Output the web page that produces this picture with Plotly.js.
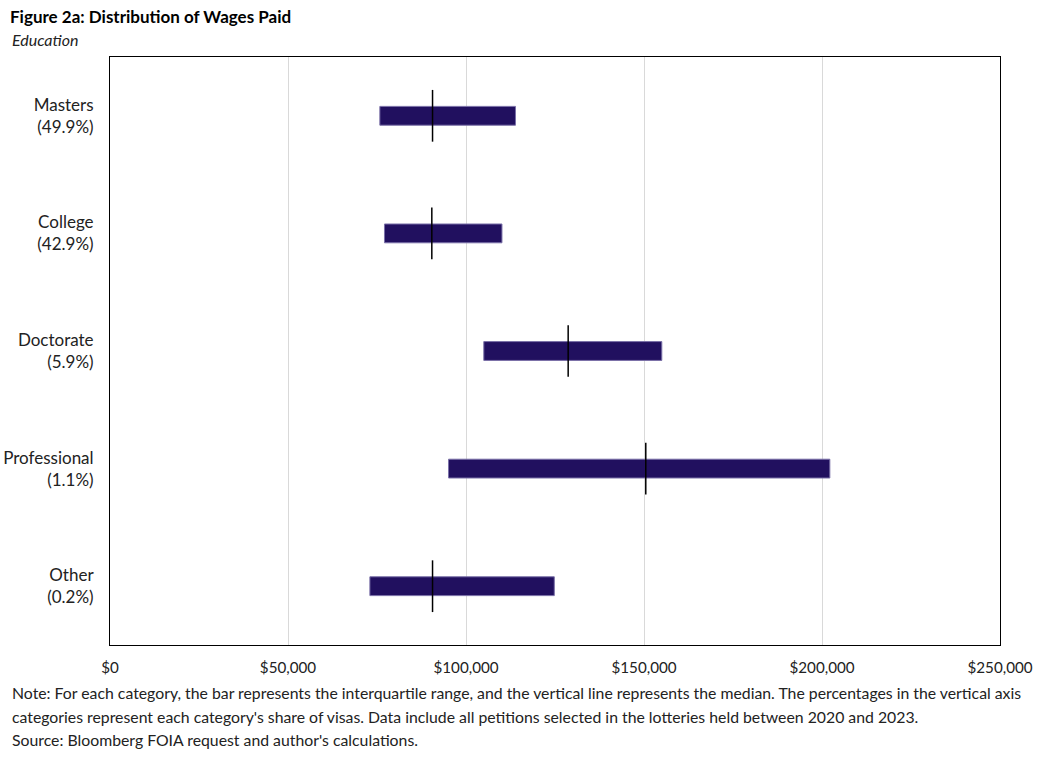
<!DOCTYPE html>
<html>
<head>
<meta charset="utf-8">
<script src="https://cdn.plot.ly/plotly-3.0.1.min.js"></script>
<style>body{margin:0;background:#fff}</style>
</head>
<body>
<div id="chart" style="width:1044px;height:758px"></div>
<script>
// education categories, share of visas, and wage quartiles (dollars)
var categories = ["Masters", "College", "Doctorate", "Professional", "Other"];
var shares = ["49.9%", "42.9%", "5.9%", "1.1%", "0.2%"];
var q1 = [75800, 77100, 105000, 95100, 73000];
var median = [90600, 90400, 128700, 150500, 90600];
var q3 = [113900, 110100, 155000, 202200, 124800];

var noteLines = [
  "Note: For each category, the bar represents the interquartile range, and the vertical line represents the median. The percentages in the vertical axis",
  "categories represent each category's share of visas. Data include all petitions selected in the lotteries held between 2020 and 2023.",
  "Source: Bloomberg FOIA request and author's calculations."
];

var pos = categories.map(function (c, i) { return i; });
var labels = categories.map(function (c, i) { return c + "<br>(" + shares[i] + ")"; });

// interquartile bars
var iqr = {
  type: 'bar',
  orientation: 'h',
  y: pos,
  base: q1,
  x: q3.map(function (v, i) { return v - q1[i]; }),
  width: 0.16,
  marker: {color: '#21105f', line: {color: '#7a70a8', width: 1}},
  hoverinfo: 'skip'
};

// median ticks
var mx = [], my = [];
for (var i = 0; i < median.length; i++) {
  mx.push(median[i], median[i], null);
  my.push(pos[i] - 0.22, pos[i] + 0.22, null);
}
var med = {
  type: 'scatter',
  mode: 'lines',
  x: mx,
  y: my,
  line: {color: '#000', width: 1.5},
  hoverinfo: 'skip'
};

var fnt = 'Lato, "Open Sans", sans-serif';

// paper coords from pixel positions (plot area 110..1000 x 57..645)
function px(x) { return (x - 110) / 890; }
function py(y) { return (645 - y) / 588; }

var notes = noteLines.map(function (t, i) {
  return {text: t, xref: 'paper', yref: 'paper', align: 'left',
    x: px(10), y: py([692, 716, 739][i]), xanchor: 'left', yanchor: 'middle',
    showarrow: false, font: {family: fnt, size: 15.8, color: '#222'}};
});

var layout = {
  width: 1044,
  height: 758,
  margin: {l: 110, r: 44, t: 57, b: 113},
  paper_bgcolor: '#fff',
  plot_bgcolor: '#fff',
  showlegend: false,
  font: {family: fnt, size: 14, color: '#222'},
  title: {
    text: '<b>Figure 2a: Distribution of Wages Paid</b>',
    x: 10 / 1044, xanchor: 'left', xref: 'container',
    y: 1 - 17 / 758, yanchor: 'middle', yref: 'container',
    font: {family: fnt, size: 17, color: '#000'}
  },
  xaxis: {
    range: [0, 250000],
    tickvals: [0, 50000, 100000, 150000, 200000, 250000],
    tickformat: '$,.0f',
    showgrid: true,
    gridcolor: '#d9d9d9',
    gridwidth: 1,
    zeroline: false,
    showline: true,
    linecolor: '#000',
    linewidth: 1,
    mirror: true,
    ticks: '',
    ticklabelstandoff: 9,
    tickfont: {family: fnt, size: 15.2, color: '#222'}
  },
  yaxis: {
    range: [4.5, -0.5],
    tickvals: pos,
    ticktext: labels,
    showgrid: false,
    zeroline: false,
    showline: true,
    linecolor: '#000',
    linewidth: 1,
    mirror: true,
    ticks: '',
    ticklabelstandoff: 12,
    tickfont: {family: fnt, size: 17, color: '#222'}
  },
  annotations: [
    {text: '<i>Education</i>', xref: 'paper', yref: 'paper',
     x: px(10), y: py(39), xanchor: 'left', yanchor: 'middle',
     showarrow: false, font: {family: fnt, size: 16, color: '#222'}}
  ].concat(notes)
};

Plotly.newPlot('chart', [iqr, med], layout, {displayModeBar: false});
</script>
</body>
</html>
